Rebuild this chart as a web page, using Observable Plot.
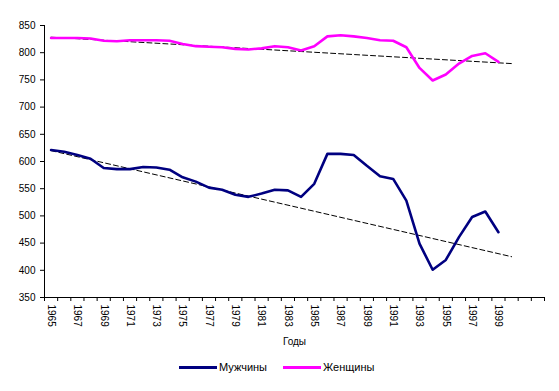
<!DOCTYPE html>
<html>
<head>
<meta charset="utf-8">
<script src="https://cdn.jsdelivr.net/npm/d3@7"></script>
<script src="https://cdn.jsdelivr.net/npm/@observablehq/plot@0.6"></script>
<style>
  body { margin: 0; background: #fff; font-family: "Liberation Sans", Arial, sans-serif; }
  #wrap { width: 559px; }
  #legend { position: relative; width: 559px; height: 39px; font-size: 11px; color: #000; }
  .item { position: absolute; top: 9px; display: flex; align-items: center; }
  .sw { width: 38px; height: 3px; margin-right: 2px; }
</style>
</head>
<body>
<div id="wrap"></div>
<script>
const years = d3.range(1965, 2000);
const men = [621, 618, 612, 605, 588, 586, 586, 590, 589, 585, 571, 563, 552, 548, 539, 535, 541, 548, 547, 535,
             559, 614, 614, 612, 592, 573, 568, 528, 449, 401, 419, 461, 498, 508, 470];
const women = [827, 827, 827, 826, 822, 821, 823, 823, 823, 822, 816, 812, 811, 810, 807, 806, 808, 812, 810, 804,
               812, 830, 832, 830, 827, 823, 822, 810, 772, 749, 760, 780, 794, 799, 783];
const tickLabelYears = d3.range(1965, 2000, 2);
const yTicks = d3.range(350, 851, 50);
// Trend lines (dashed): start and end years with values
const trendYears = [1965, 2000];
const menTrend = [620, 425];
const womenTrend = [828.5, 780];
const seriesNames = ["Мужчины", "Женщины"];
const seriesColors = ["#000080", "#FF00FF"];

const rows = [];
years.forEach((yr, i) => {
  rows.push({year: yr, value: men[i], s: seriesNames[0]});
  rows.push({year: yr, value: women[i], s: seriesNames[1]});
});
const trends = [
  ...trendYears.map((x, i) => ({x, y: menTrend[i], s: "m"})),
  ...trendYears.map((x, i) => ({x, y: womenTrend[i], s: "w"}))
];
const boundaries = d3.range(1964.5, 2003, 1);

const chart = Plot.plot({
  width: 559,
  height: 352,
  marginLeft: 44,
  marginRight: 15,
  marginTop: 25,
  marginBottom: 55,
  style: {fontFamily: "Liberation Sans, Arial, sans-serif", fontSize: "10px", color: "#000", background: "#fff"},
  x: {type: "linear", domain: [1964.5, 2002.5]},
  y: {domain: [350, 850]},
  color: {domain: seriesNames, range: seriesColors},
  marks: [
    Plot.axisY({ticks: yTicks, tickSize: 4, tickPadding: 5, label: null, tickFormat: d => String(d)}),
    Plot.axisX({ticks: boundaries, tickSize: 4, tickFormat: () => "", label: null}),
    Plot.axisX({ticks: tickLabelYears, tickSize: 0, tickPadding: 7, tickRotate: 90, tickFormat: d => String(d),
                label: "Годы", labelAnchor: "center", labelArrow: "none", labelOffset: 47, fontSize: 10}),
    Plot.ruleX([1964.5], {stroke: "#000"}),
    Plot.ruleY([350], {stroke: "#000"}),
    Plot.line(trends, {x: "x", y: "y", z: "s", stroke: "#000", strokeWidth: 1, strokeDasharray: "5,3"}),
    Plot.line(rows, {x: "year", y: "value", z: "s", stroke: "s", strokeWidth: 2.6, strokeLinejoin: "round"})
  ]
});
document.getElementById("wrap").appendChild(chart);

const legend = document.createElement("div");
legend.id = "legend";
const legendLeft = [179, 283];
seriesNames.forEach((name, i) => {
  const it = document.createElement("div");
  it.className = "item";
  it.style.left = legendLeft[i] + "px";
  const sw = document.createElement("span");
  sw.className = "sw";
  sw.style.background = seriesColors[i];
  const t = document.createElement("span");
  t.textContent = name;
  it.appendChild(sw); it.appendChild(t);
  legend.appendChild(it);
});
document.getElementById("wrap").appendChild(legend);
</script>
</body>
</html>
